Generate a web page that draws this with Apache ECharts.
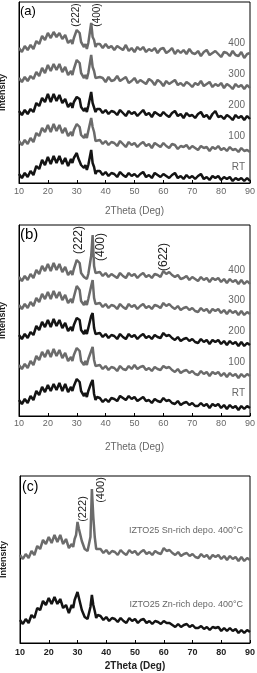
<!DOCTYPE html>
<html>
<head>
<meta charset="utf-8">
<script src="https://cdn.jsdelivr.net/npm/echarts@6/dist/echarts.min.js"></script>
<style>
  html, body { margin: 0; padding: 0; background: #fff; }
  #main { width: 257px; height: 673px; }
</style>
</head>
<body>
<div id="main"></div>
<script>
// 2Theta sampling (deg), shared by every pattern
var twoTheta = [10,11,12,13,14,15,16,17,18,19,20,21,22,23,24,25,26,27,28,
  28.5,29,29.5,30,30.5,31,31.5,32,32.5,33,33.5,34,34.5,35,35.5,36,36.5,37,
  38,39,40,41,42,43,44,45,46,47,48,49,50,51,52,53,54,55,56,57,58,59,60,61,62,63,64,
  65,66,67,68,69,70,71,72,73,74,75,76,77,78,79,80,81,82,83,84,85,86,87,88,89,90];

// panel (a) - offset intensity (a.u.)
var a400 = [135,131,137,133,138,134,142,139,147,143,150,145,151,146,150,144,148,140,143,
  139,145,145,153,154,150,141,142,136,139,134,140,142,160,146,143,136,139,
  139,135,139,135,137,133,137,135,133,138,132,135,131,136,133,136,131,134,132,135,
  130,134,135,130,132,135,129,133,130,133,129,134,130,129,132,127,131,133,128,130,
  132,129,126,131,130,127,132,128,127,131,125,129,130];
var a300 = [105,101,106,102,107,104,111,107,115,110,118,112,119,113,119,111,116,108,112,
  108,114,114,123,124,120,110,111,105,108,104,110,112,128,116,112,105,107,
  106,105,101,106,102,103,107,102,104,106,100,102,105,100,103,101,99,104,102,98,
  103,101,97,102,99,101,103,98,100,97,101,99,96,100,98,102,97,99,101,96,
  99,97,100,95,99,97,94,99,96,98,94,98,95];
var a200 = [72,68,73,69,74,71,80,77,85,81,89,81,89,82,88,80,84,76,80,
  75,81,79,86,85,84,76,77,72,75,71,77,78,91,80,78,71,74,
  74,70,73,69,72,71,68,73,70,67,72,69,71,67,70,73,68,70,66,71,
  69,67,71,68,66,70,72,67,69,65,70,67,68,65,69,71,66,68,64,69,
  72,66,67,64,68,66,63,68,65,67,63,67,64];
var a100 = [42,38,43,39,45,41,50,47,55,51,58,51,59,52,58,50,55,47,51,
  47,53,52,59,58,56,48,50,45,49,45,52,54,65,56,51,42,44,
  43,39,42,38,41,40,37,42,39,36,41,38,40,36,39,41,37,39,35,40,
  38,36,40,37,35,39,38,34,37,36,38,34,37,35,33,37,35,36,32,36,
  34,37,33,35,32,36,33,34,31,35,32,33,31];
var aRT = [9,5,10,6,12,8,17,14,23,18,26,19,27,20,27,19,25,17,24,
  20,25,23,30,25,26,18,20,15,18,13,18,17,33,20,16,9,12,
  12,8,11,7,10,9,6,11,8,6,10,7,9,6,9,11,6,8,5,10,
  8,6,9,7,5,8,10,5,7,4,8,5,7,4,7,9,4,6,3,7,
  5,7,3,6,4,6,2,5,3,5,2,5,2];

// panel (b)
var b400 = [139,135,140,136,142,138,146,142,150,145,152,145,153,146,152,144,149,141,145,
  141,147,147,156,157,153,143,144,139,141,137,142,143,160,181,150,143,145,
  144,140,143,139,142,140,138,143,140,138,143,140,142,138,141,143,139,141,138,142,
  141,139,145,142,144,141,139,141,137,138,140,136,139,137,135,139,136,138,134,138,
  136,138,134,137,133,137,134,136,132,136,132,135,132];
var b300 = [111,107,112,108,114,110,118,114,122,117,124,117,125,118,124,116,121,113,117,
  113,119,120,130,132,126,115,116,111,115,111,117,118,130,136,118,112,114,
  113,109,112,108,111,110,107,112,109,107,112,109,111,107,110,112,108,110,107,111,
  110,108,113,110,112,109,107,110,106,108,109,106,108,105,104,108,105,107,103,107,
  105,107,103,106,102,106,103,105,101,105,101,104,102];
var b200 = [81,77,82,78,84,81,90,86,94,89,96,89,97,90,96,88,93,85,89,
  85,91,90,98,97,96,86,87,82,86,82,88,89,100,103,88,82,84,
  83,79,82,78,81,80,77,82,79,77,82,79,81,77,80,82,78,80,77,81,
  79,78,83,80,81,78,76,79,75,77,78,75,77,74,73,77,74,76,72,76,
  74,76,72,75,71,75,72,74,70,74,70,73,71];
var b100 = [51,47,52,48,55,51,60,56,64,59,66,59,67,60,66,58,63,55,59,
  55,61,61,68,67,65,55,56,51,55,51,57,58,65,69,56,50,52,
  51,47,50,46,49,48,45,50,47,46,50,47,51,47,49,50,46,48,45,49,
  47,46,50,48,49,46,44,47,43,45,46,43,45,42,41,45,42,44,40,44,
  42,44,40,43,39,43,40,42,38,42,39,42,40];
var bRT = [16,12,17,13,20,16,25,21,29,24,31,25,32,26,33,25,32,24,29,
  25,30,29,37,38,34,25,26,20,23,19,25,26,33,36,22,16,19,
  18,14,17,14,18,17,15,20,18,16,20,17,19,15,17,19,15,16,13,17,
  15,14,18,15,16,13,12,15,11,13,14,11,13,10,10,13,10,12,8,12,
  10,12,8,11,7,11,8,10,6,10,7,10,8];

// panel (c)
var cSn = [88,84,89,85,92,88,97,94,103,99,106,100,108,101,108,99,104,95,99,
  96,104,108,121,114,115,102,100,94,96,92,99,106,154,126,106,94,95,
  94,90,93,89,92,91,88,93,90,88,93,90,92,88,91,93,89,91,88,92,
  90,89,95,92,93,90,88,91,87,89,90,87,89,86,85,89,86,88,84,88,
  86,88,84,87,83,87,84,86,82,86,82,85,83];
var cZn = [23,19,24,20,28,25,35,33,42,38,45,39,46,39,44,35,38,30,38,
  35,43,44,51,45,44,33,32,26,28,24,30,36,48,38,32,25,28,
  27,23,26,22,25,24,21,25,22,20,25,22,24,20,23,24,20,22,19,22,
  21,19,22,20,20,18,16,19,16,18,19,16,18,15,15,17,14,16,13,16,
  15,16,12,15,12,15,12,14,10,13,10,13,11];

var labelsA = ['400','300','200','100','RT'];
var labelsC = ['IZTO25 Sn-rich depo. 400°C', 'IZTO25 Zn-rich depo. 400°C'];

var GRAY = '#6b6b6b';
var BLACK = '#141414';
var FONT = '"Liberation Sans", Arial, sans-serif';

function pairs(arr) {
    return twoTheta.map(function (x, i) { return [x, arr[i]]; });
}

function line(idx, arr, color) {
    return {
        type: 'line',
        xAxisIndex: idx,
        yAxisIndex: idx,
        data: pairs(arr),
        symbol: 'none',
        silent: true,
        lineStyle: { color: color, width: 2.5 },
        z: color === GRAY ? 2 : 3
    };
}

function xAxis(idx, bold, labelMargin, nameGap) {
    return {
        type: 'value',
        gridIndex: idx,
        min: 10, max: 90, interval: 10,
        name: '2Theta (Deg)',
        nameLocation: 'middle',
        nameGap: nameGap,
        nameTextStyle: { color: bold ? '#222' : '#666', fontSize: 10, fontWeight: bold ? 'bold' : 'normal', fontFamily: FONT },
        axisLine: { show: true, lineStyle: { color: '#000', width: 1 } },
        axisTick: { show: true, inside: true, length: 3, lineStyle: { color: '#000' } },
        axisLabel: { color: bold ? '#222' : '#666', fontSize: 9, margin: labelMargin, fontWeight: bold ? 'bold' : 'normal', fontFamily: FONT },
        splitLine: { show: false }
    };
}

function yAxis(idx, max) {
    return {
        type: 'value',
        gridIndex: idx,
        min: 0, max: max,
        name: 'Intensity',
        nameLocation: 'middle',
        nameGap: 12,
        nameTextStyle: { color: '#222', fontSize: 9, fontWeight: 'bold', fontFamily: FONT },
        axisLine: { show: true, lineStyle: { color: '#000' } },
        axisTick: { show: false },
        axisLabel: { show: false },
        splitLine: { show: false }
    };
}

function txt(x, y, s, size, color, opts) {
    opts = opts || {};
    return {
        type: 'text',
        x: x, y: y,
        rotation: opts.rot || 0,
        z: 10,
        style: {
            text: s,
            fill: color,
            font: (opts.bold ? 'bold ' : '') + size + 'px ' + FONT,
            align: opts.align || 'center',
            verticalAlign: 'middle'
        }
    };
}

var myChart = echarts.init(document.getElementById('main'), null, { renderer: 'canvas' });

var graphics = [
    txt(20, 11, '(a)', 13, '#000', { align: 'left' }),
    txt(76, 15, '(222)', 10, '#222', { rot: Math.PI / 2 }),
    txt(97, 15, '(400)', 10, '#222', { rot: Math.PI / 2 }),
    txt(20, 235, '(b)', 15, '#000', { align: 'left' }),
    txt(79, 240, '(222)', 12, '#222', { rot: Math.PI / 2 }),
    txt(101, 247, '(400)', 12, '#222', { rot: Math.PI / 2 }),
    txt(164, 257, '(622)', 12, '#222', { rot: Math.PI / 2 }),
    txt(22, 487, '(c)', 14, '#000', { align: 'left' }),
    txt(83, 509, '(222)', 11, '#222', { rot: Math.PI / 2 }),
    txt(101, 490, '(400)', 11, '#222', { rot: Math.PI / 2 }),
    txt(243, 531, labelsC[0], 9, '#666', { align: 'right' }),
    txt(243, 605, labelsC[1], 9, '#666', { align: 'right' })
];
var aLabelY = [43, 74, 105, 136, 167];
var bLabelY = [270, 300, 331, 362, 393];
labelsA.forEach(function (s, i) {
    graphics.push(txt(245, aLabelY[i], s, 10, '#666', { align: 'right' }));
    graphics.push(txt(245, bLabelY[i], s, 10, '#666', { align: 'right' }));
});

var gridBase = { show: true, borderColor: '#000', borderWidth: 1, backgroundColor: 'transparent', containLabel: false, outerBoundsMode: 'none' };

var option = {
    backgroundColor: '#fff',
    animation: false,
    grid: [
        Object.assign({ left: 19, top: 2, width: 231, height: 181 }, gridBase),
        Object.assign({ left: 19, top: 225, width: 231, height: 191 }, gridBase),
        Object.assign({ left: 20, top: 476, width: 230, height: 167 }, gridBase)
    ],
    xAxis: [xAxis(0, false, 4, 23), xAxis(1, false, 3, 26), xAxis(2, true, 5, 18)],
    yAxis: [yAxis(0, 181), yAxis(1, 191), yAxis(2, 167)],
    series: [
        line(0, a400, GRAY), line(0, a300, GRAY), line(0, a200, BLACK), line(0, a100, GRAY), line(0, aRT, BLACK),
        line(1, b400, GRAY), line(1, b300, GRAY), line(1, b200, BLACK), line(1, b100, GRAY), line(1, bRT, BLACK),
        line(2, cSn, GRAY), line(2, cZn, BLACK)
    ],
    graphic: graphics
};
myChart.setOption(option);
</script>
</body>
</html>
